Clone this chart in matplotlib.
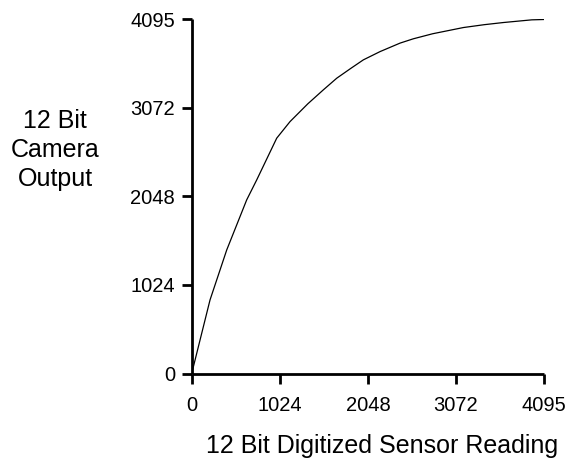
import numpy as np
import matplotlib
matplotlib.use('Agg')
import matplotlib.pyplot as plt

# sensor reading -> camera output
sensor = [0, 213, 407, 639, 756, 988, 1143, 1350, 1530, 1686, 1850, 1995, 2190,
          2422, 2577, 2800, 3158, 3400, 3623, 3953, 4095]
output = [0, 851, 1429, 2008, 2240, 2722, 2914, 3120, 3281, 3416, 3530, 3628, 3724,
          3822, 3872, 3930, 4002, 4035, 4060, 4091, 4095]
ticks = [0, 1024, 2048, 3072, 4095]

plt.rcParams['font.family'] = ['Liberation Sans', 'DejaVu Sans']

fig = plt.figure(figsize=(5.73, 4.62), dpi=100)
ax = fig.add_axes([191.7 / 573, 1 - 373.5 / 462, (544 - 191.7) / 573, (373.5 - 19.5) / 462])

ax.plot(sensor, output, color='black', lw=0.9)

ax.set_xlim(0, 4095)
ax.set_ylim(0, 4095)
ax.set_xticks(ticks)
ax.set_yticks(ticks)
ax.tick_params(axis='both', direction='out', length=7.5, width=2, labelsize=14.5, color='black')
ax.tick_params(axis='x', pad=9)
ax.tick_params(axis='y', pad=4.5)

ax.spines['top'].set_visible(False)
ax.spines['right'].set_visible(False)
for s in ['left', 'bottom']:
    ax.spines[s].set_linewidth(2)
    ax.spines[s].set_capstyle('butt')

fig.text(382.5 / 573, 1 - 453 / 462, '12 Bit Digitized Sensor Reading',
         ha='center', va='baseline', fontsize=18)
fig.text(55 / 573, 1 - 150 / 462, '12 Bit\nCamera\nOutput',
         ha='center', va='center', fontsize=18, linespacing=1.25)

fig.savefig('out.png', dpi=100)
